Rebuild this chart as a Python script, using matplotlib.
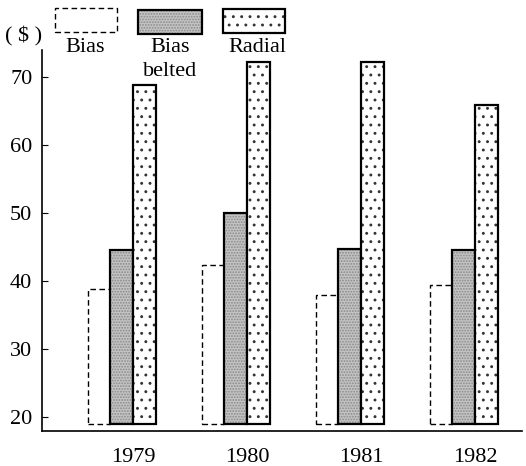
import matplotlib.pyplot as plt
import numpy as np
from matplotlib.patches import Rectangle

plt.rcParams['font.family'] = ['Liberation Serif', 'DejaVu Serif']
plt.rcParams['hatch.linewidth'] = 0.9

years = ['1979', '1980', '1981', '1982']
bias = [38.8, 42.4, 37.9, 39.4]
bias_belted = [44.5, 50.0, 44.7, 44.6]
radial = [68.8, 72.2, 72.2, 65.9]
base = 19

W, H = 526, 466
fig = plt.figure(figsize=(W / 100, H / 100), dpi=100)
ax = fig.add_axes([42 / W, 1 - 431 / H, 480 / W, 381 / H])

x = np.arange(len(years))
w = 0.2
b = np.array(base)
ax.bar(x - w, np.array(bias) - b, w, bottom=base,
       facecolor='white', edgecolor='black', linestyle=(0, (4, 2.5)), linewidth=1)
# bias belted: light grey stipple, then a black outline
ax.bar(x, np.array(bias_belted) - b, w, bottom=base,
       facecolor='#c4c4c4', edgecolor='#8a8a8a', linewidth=0, hatch='......')
ax.bar(x, np.array(bias_belted) - b, w, bottom=base,
       fill=False, edgecolor='black', linewidth=1.6)
# radial: sparse dots
ax.bar(x + w, np.array(radial) - b, w, bottom=base,
       facecolor='white', edgecolor='#333333', linewidth=0, hatch='..')
ax.bar(x + w, np.array(radial) - b, w, bottom=base,
       fill=False, edgecolor='black', linewidth=1.6)

ax.set_xlim(-0.70, 3.51)
ax.set_ylim(17.94, 74.0)
ax.set_yticks([20, 30, 40, 50, 60, 70])
ax.set_xticks(x + 0.1)
ax.set_xticklabels(years)
ax.tick_params(axis='y', direction='in', length=4, labelsize=16, pad=7)
ax.tick_params(axis='x', length=0, labelsize=16, pad=12)
for s in ['top', 'right']:
    ax.spines[s].set_visible(False)
ax.spines['left'].set_linewidth(1.2)
ax.spines['bottom'].set_linewidth(1.2)

# legend boxes drawn in figure pixels
def box(x0, y0, x1, y1, **kw):
    r = Rectangle((x0 / W, 1 - y1 / H), (x1 - x0) / W, (y1 - y0) / H,
                  transform=fig.transFigure, **kw)
    fig.add_artist(r)

box(55, 8, 117, 32, facecolor='white', edgecolor='black',
    linestyle=(0, (4, 2.5)), linewidth=1)
box(138, 10, 202, 34, facecolor='#c4c4c4', edgecolor='#8a8a8a',
    linewidth=0, hatch='......')
box(138, 10, 202, 34, fill=False, edgecolor='black', linewidth=1.6)
box(223, 9, 285, 33, facecolor='white', edgecolor='#333333',
    linewidth=0, hatch='..')
box(223, 9, 285, 33, fill=False, edgecolor='black', linewidth=1.6)

fig.text(85 / W, 1 - 47 / H, 'Bias', ha='center', va='center', fontsize=16)
fig.text(170 / W, 1 - 47 / H, 'Bias', ha='center', va='center', fontsize=16)
fig.text(170 / W, 1 - 72 / H, 'belted', ha='center', va='center', fontsize=16)
fig.text(257 / W, 1 - 47 / H, 'Radial', ha='center', va='center', fontsize=16)
fig.text(24 / W, 1 - 36 / H, '( $ )', ha='center', va='center', fontsize=16)

fig.savefig('out.png', dpi=100)
